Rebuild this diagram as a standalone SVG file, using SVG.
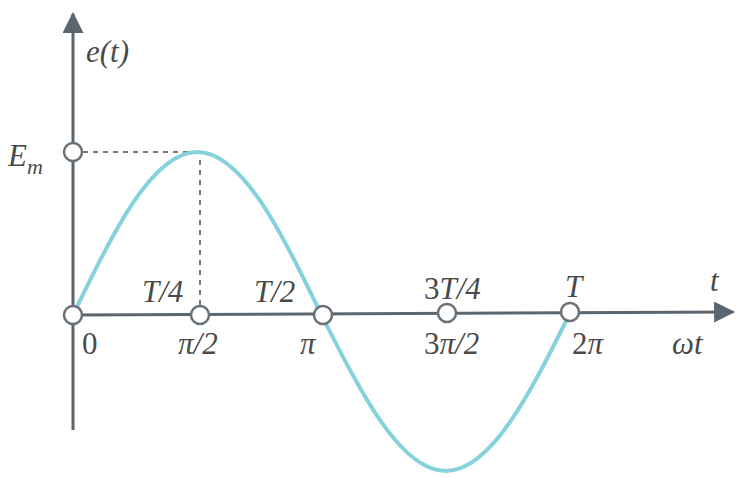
<svg xmlns="http://www.w3.org/2000/svg" width="737" height="478" viewBox="0 0 737 478">
<style>
.ax{stroke:#5c6670;stroke-width:3;fill:none}
.dash{stroke:#777;stroke-width:2;stroke-dasharray:5 5;fill:none}
.curve{stroke:#86d2dc;stroke-width:4;fill:none}
.pt{fill:#fff;stroke:#6a7078;stroke-width:2.5}
text{font-size:31px;fill:#4a4a4a;font-style:italic}
.up{font-style:normal}
</style>
<defs>
<marker id="ah" viewBox="0 0 10 10" refX="9" refY="5" markerWidth="7" markerHeight="7" markerUnits="strokeWidth" orient="auto">
<path d="M0,0 L10,5 L0,10 z" fill="#5c6670"/>
</marker>
</defs>
<g id="connectors">
<line class="ax" x1="73" y1="430" x2="73" y2="14" marker-end="url(#ah)"/>
<line class="ax" x1="73" y1="315" x2="733" y2="312" marker-end="url(#ah)"/>
<line class="dash" x1="83" y1="152" x2="195" y2="152"/>
<line class="dash" x1="200" y1="160" x2="200" y2="306"/>
<path id="sine" class="curve" d="M73,315 C113.5,231.5 152.3,152 197.25,152 C242.2,152 281,231.5 321.5,315 C362,394.9 400.8,471 445.75,471 C490.7,471 529.5,394.9 570,313"/>
</g>
<g font-family="'Liberation Serif', 'Times New Roman', serif">
<g id="p0"><circle class="pt" cx="73" cy="315" r="9"/><text class="up" x="82" y="354">0</text></g>
<g id="p1"><circle class="pt" cx="200" cy="315" r="9"/><text x="142" y="302">T/4</text><text x="178" y="354">π/2</text></g>
<g id="p2"><circle class="pt" cx="323" cy="315" r="9"/><text x="254" y="302">T/2</text><text x="300" y="354">π</text></g>
<g id="p3"><circle class="pt" cx="447" cy="313" r="9"/><text x="424" y="299"><tspan class="up">3</tspan>T/4</text><text x="424" y="354"><tspan class="up">3</tspan>π/2</text></g>
<g id="p4"><circle class="pt" cx="570" cy="312" r="9"/><text x="565" y="297">T</text><text x="572" y="354"><tspan class="up">2</tspan>π</text></g>
<g id="em"><circle class="pt" cx="73" cy="152" r="9"/><text x="8" y="166">E<tspan font-size="22" dy="8">m</tspan></text></g>
<g id="labels">
<text x="86" y="62">e(t)</text>
<text x="710" y="291">t</text>
<text x="672" y="354">ωt</text>
</g>
</g>
</svg>
